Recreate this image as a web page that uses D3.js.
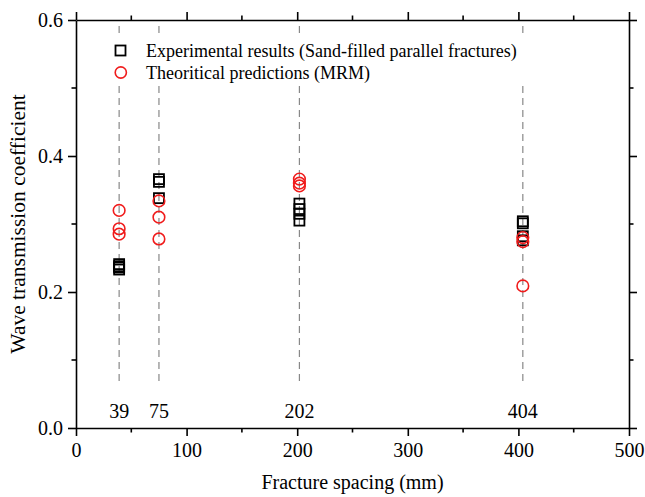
<!DOCTYPE html>
<html><head><meta charset="utf-8">
<script src="https://cdn.jsdelivr.net/npm/d3@7"></script>
<style>body{margin:0;background:#fff}svg{display:block}text{font-family:"Liberation Serif","Times New Roman",serif;fill:#000}</style>
</head><body>
<svg id="c" width="645" height="497"></svg>
<script>
const spacings = [39, 75, 202, 404];
const expX = [39,39,39,39, 75,75,75, 202,202,202,202, 404,404,404,404];
const expY = [0.241,0.238,0.236,0.233, 0.366,0.362,0.338, 0.330,0.322,0.315,0.305, 0.304,0.301,0.282,0.276];
const mrmX = [39,39,39, 75,75,75, 202,202,202, 404,404,404];
const mrmY = [0.320,0.293,0.285, 0.334,0.310,0.278, 0.366,0.360,0.356, 0.280,0.274,0.209];
const xTicks = [0,100,200,300,400,500];
const yTicks = [0.0,0.2,0.4,0.6];
const legendLabels = ["Experimental results (Sand-filled parallel fractures)", "Theoritical predictions (MRM)"];

const svg = d3.select("#c");
const x = d3.scaleLinear().domain([0,500]).range([76,629]);
const y = d3.scaleLinear().domain([0,0.6]).range([428,20]);
const fmt = d3.format(".1f");

// dashed guide lines
svg.append("g").selectAll("line").data(spacings).join("line")
  .attr("x1", d=>x(d)).attr("x2", d=>x(d))
  .attr("y1", 26).attr("y2", 386)
  .attr("stroke","#888").attr("stroke-width",1.2).attr("stroke-dasharray","7,5");

// spacing labels
svg.append("g").selectAll("text").data(spacings).join("text")
  .attr("x", d=>x(d)).attr("y", 418).attr("text-anchor","middle")
  .attr("font-size",20).text(d=>d);

// legend background (covers guide lines)
svg.append("rect").attr("x",105).attr("y",38).attr("width",425).attr("height",48).attr("fill","#fff");

// axes
function styleAxis(g){
  g.select(".domain").attr("stroke","#000").attr("stroke-width",1.6);
  g.selectAll(".tick line").attr("stroke","#000").attr("stroke-width",1.6);
  g.selectAll(".tick text").attr("font-family",'"Liberation Serif","Times New Roman",serif').attr("font-size",20).attr("fill","#000");
}
const xMinor = d3.range(50,500,100);
const yMinor = [0.1,0.3,0.5];

const gb = svg.append("g").attr("transform","translate(0,428)")
  .call(d3.axisBottom(x).tickValues(xTicks).tickSize(8).tickSizeOuter(0).tickPadding(7).tickFormat(d3.format("d")));
styleAxis(gb);
gb.append("g").selectAll("line").data(xMinor).join("line")
  .attr("x1",d=>x(d)).attr("x2",d=>x(d)).attr("y1",0).attr("y2",4.5).attr("stroke","#000").attr("stroke-width",1.6);

const gt = svg.append("g").attr("transform","translate(0,20)")
  .call(d3.axisTop(x).tickValues(xTicks).tickSize(8).tickSizeOuter(0).tickFormat(""));
styleAxis(gt);
gt.append("g").selectAll("line").data(xMinor).join("line")
  .attr("x1",d=>x(d)).attr("x2",d=>x(d)).attr("y1",0).attr("y2",-4.5).attr("stroke","#000").attr("stroke-width",1.6);

const gl = svg.append("g").attr("transform","translate(76,0)")
  .call(d3.axisLeft(y).tickValues(yTicks).tickSize(8).tickSizeOuter(0).tickPadding(5).tickFormat(fmt));
styleAxis(gl);
gl.append("g").selectAll("line").data(yMinor).join("line")
  .attr("y1",d=>y(d)).attr("y2",d=>y(d)).attr("x1",0).attr("x2",-4.5).attr("stroke","#000").attr("stroke-width",1.6);

const gr = svg.append("g").attr("transform","translate(629,0)")
  .call(d3.axisRight(y).tickValues(yTicks).tickSize(8).tickSizeOuter(0).tickFormat(""));
styleAxis(gr);
gr.append("g").selectAll("line").data(yMinor).join("line")
  .attr("y1",d=>y(d)).attr("y2",d=>y(d)).attr("x1",0).attr("x2",4.5).attr("stroke","#000").attr("stroke-width",1.6);

// axis titles
svg.append("text").attr("x",352.5).attr("y",489).attr("text-anchor","middle").attr("font-size",20).text("Fracture spacing (mm)");
svg.append("text").attr("transform","translate(25,224) rotate(-90)").attr("text-anchor","middle").attr("font-size",21.5).text("Wave transmission coefficient");

// data marks
const s = 10;
svg.append("g").selectAll("rect").data(expX.map((d,i)=>[d,expY[i]])).join("rect")
  .attr("x", d=>x(d[0])-s/2).attr("y", d=>y(d[1])-s/2).attr("width",s).attr("height",s)
  .attr("fill","none").attr("stroke","#000").attr("stroke-width",1.8);
svg.append("g").selectAll("circle").data(mrmX.map((d,i)=>[d,mrmY[i]])).join("circle")
  .attr("cx", d=>x(d[0])).attr("cy", d=>y(d[1])).attr("r",5.8)
  .attr("fill","none").attr("stroke","#f01c1c").attr("stroke-width",1.6);

// legend
svg.append("rect").attr("x",115.5).attr("y",45.5).attr("width",10).attr("height",10)
  .attr("fill","none").attr("stroke","#000").attr("stroke-width",1.8);
svg.append("circle").attr("cx",120.8).attr("cy",72.5).attr("r",5.6)
  .attr("fill","none").attr("stroke","#f01c1c").attr("stroke-width",1.6);
svg.append("text").attr("x",146).attr("y",57).attr("font-size",18).text(legendLabels[0]);
svg.append("text").attr("x",146).attr("y",78.5).attr("font-size",18).text(legendLabels[1]);
</script>
</body></html>
